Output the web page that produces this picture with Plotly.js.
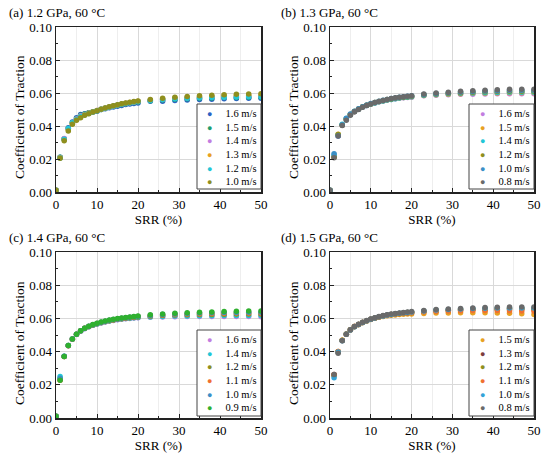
<!DOCTYPE html>
<html>
<head>
<meta charset="utf-8">
<script src="https://cdn.plot.ly/plotly-3.0.1.min.js"></script>
<style>html,body{margin:0;padding:0;background:#fff;}#chart{width:550px;height:457px;}</style>
</head>
<body>
<div id="chart"></div>
<script>
// ---- data ----
const srr = [0,1,2,3,4,5,6,7,8,9,10,11,12,13,14,15,16,17,18,19,20,23,26,29,32,35,38,41,44,47,50];
const xTickVals = [0,10,20,30,40,50];
const yTickVals = [0,0.02,0.04,0.06,0.08,0.10];

const panelTitles = ["(a) 1.2 GPa, 60 °C","(b) 1.3 GPa, 60 °C","(c) 1.4 GPa, 60 °C","(d) 1.5 GPa, 60 °C"];
const xTitle = "SRR (%)";
const yTitle = "Coefficient of Traction";

// panel (a) 1.2 GPa
const namesA = ["1.6 m/s","1.5 m/s","1.4 m/s","1.3 m/s","1.2 m/s","1.0 m/s"];
const colorsA = ["#2b63c4","#1f9e6e","#c27de0","#e8a122","#22c6d6","#8f8f1e"];
const a16 = [0.001,0.021,0.032,0.039,0.0425,0.045,0.047,0.0475,0.048,0.0485,0.049,0.050,0.0505,0.051,0.0515,0.052,0.0525,0.053,0.0533,0.0537,0.054,0.0550,0.0550,0.0555,0.0558,0.0560,0.0562,0.0565,0.0566,0.0568,0.0568];
const a15 = [0.001,0.021,0.0322,0.0385,0.042,0.0445,0.0465,0.0472,0.048,0.0487,0.0493,0.050,0.0507,0.0513,0.052,0.0525,0.053,0.0535,0.054,0.0543,0.0545,0.0553,0.0557,0.0562,0.0565,0.0568,0.0570,0.0572,0.0573,0.0575,0.0574];
const a14 = [0.001,0.0208,0.0325,0.0383,0.0418,0.0442,0.0462,0.0470,0.0478,0.0486,0.0494,0.0501,0.0508,0.0515,0.0521,0.0527,0.0532,0.0537,0.0541,0.0545,0.0548,0.0556,0.0561,0.0566,0.0570,0.0573,0.0576,0.0578,0.0579,0.0580,0.0580];
const a13 = [0.001,0.0207,0.0318,0.0378,0.0415,0.0438,0.0458,0.0468,0.0477,0.0486,0.0494,0.0502,0.0509,0.0516,0.0522,0.0528,0.0533,0.0538,0.0542,0.0546,0.0550,0.0558,0.0564,0.0569,0.0573,0.0577,0.0580,0.0583,0.0585,0.0587,0.0588];
const a12 = [0.001,0.0206,0.0320,0.0385,0.0420,0.0440,0.0458,0.0467,0.0476,0.0485,0.0493,0.0501,0.0508,0.0515,0.0521,0.0527,0.0532,0.0537,0.0541,0.0545,0.0549,0.0555,0.0560,0.0565,0.0568,0.0571,0.0573,0.0575,0.0576,0.0577,0.0577];
const a10 = [0.001,0.0205,0.031,0.037,0.041,0.0435,0.045,0.0465,0.0475,0.0485,0.0493,0.0501,0.0509,0.0516,0.0523,0.0529,0.0535,0.0540,0.0544,0.0548,0.0552,0.0561,0.0568,0.0574,0.0579,0.0583,0.0587,0.0590,0.0592,0.0594,0.0595];

// panel (b) 1.3 GPa
const namesB = ["1.6 m/s","1.5 m/s","1.4 m/s","1.2 m/s","1.0 m/s","0.8 m/s"];
const colorsB = ["#c27de0","#e8a122","#22c6d6","#8f8f1e","#3b8fc7","#6a6a6a"];
const b16 = [0.001,0.0215,0.0340,0.0405,0.0440,0.0468,0.0487,0.0502,0.0515,0.0525,0.0533,0.0540,0.0547,0.0552,0.0557,0.0561,0.0565,0.0568,0.0571,0.0573,0.0575,0.0583,0.0587,0.0590,0.0592,0.0593,0.0594,0.0595,0.0595,0.0596,0.0595];
const b15 = [0.001,0.0212,0.0350,0.0408,0.0442,0.0470,0.0488,0.0503,0.0516,0.0526,0.0534,0.0541,0.0548,0.0553,0.0558,0.0562,0.0566,0.0569,0.0572,0.0575,0.0577,0.0585,0.0590,0.0593,0.0596,0.0598,0.0599,0.0600,0.0601,0.0601,0.0601];
const b14 = [0.001,0.0225,0.0345,0.0410,0.0445,0.0470,0.0488,0.0502,0.0515,0.0525,0.0533,0.0540,0.0547,0.0552,0.0557,0.0561,0.0565,0.0569,0.0572,0.0575,0.0578,0.0586,0.0591,0.0595,0.0598,0.0600,0.0602,0.0603,0.0604,0.0604,0.0604];
const b12 = [0.001,0.0210,0.0348,0.0405,0.0442,0.0470,0.0488,0.0503,0.0516,0.0526,0.0535,0.0542,0.0549,0.0555,0.0560,0.0564,0.0568,0.0572,0.0575,0.0578,0.0580,0.0589,0.0594,0.0598,0.0602,0.0605,0.0607,0.0609,0.0610,0.0611,0.0611];
const b10 = [0.001,0.0232,0.0340,0.0408,0.0447,0.0472,0.0490,0.0504,0.0517,0.0527,0.0536,0.0543,0.0550,0.0556,0.0561,0.0566,0.0570,0.0574,0.0577,0.0580,0.0583,0.0591,0.0597,0.0602,0.0606,0.0609,0.0612,0.0614,0.0616,0.0617,0.0617];
const b08 = [0.001,0.0208,0.0340,0.0403,0.0435,0.0465,0.0486,0.0500,0.0514,0.0525,0.0534,0.0542,0.0549,0.0555,0.0561,0.0566,0.0571,0.0575,0.0578,0.0581,0.0584,0.0594,0.0600,0.0605,0.0610,0.0614,0.0617,0.0620,0.0622,0.0623,0.0623];

// panel (c) 1.4 GPa
const namesC = ["1.6 m/s","1.4 m/s","1.2 m/s","1.1 m/s","1.0 m/s","0.9 m/s"];
const colorsC = ["#c27de0","#22c6d6","#8f8f1e","#f07030","#3b8fc7","#2fb02f"];
const c16 = [0.001,0.0230,0.0370,0.0435,0.0475,0.0503,0.0523,0.0538,0.0549,0.0558,0.0566,0.0573,0.0579,0.0584,0.0588,0.0592,0.0595,0.0598,0.0600,0.0602,0.0604,0.0607,0.0609,0.0610,0.0611,0.0611,0.0611,0.0611,0.0611,0.0611,0.0610];
const c14 = [0.001,0.0250,0.0372,0.0437,0.0476,0.0504,0.0524,0.0539,0.0550,0.0559,0.0567,0.0574,0.0580,0.0585,0.0589,0.0593,0.0596,0.0599,0.0601,0.0604,0.0606,0.0609,0.0612,0.0614,0.0615,0.0616,0.0616,0.0617,0.0617,0.0617,0.0617];
const c12 = [0.001,0.0235,0.0371,0.0436,0.0476,0.0505,0.0525,0.0540,0.0551,0.0560,0.0568,0.0575,0.0581,0.0586,0.0591,0.0595,0.0598,0.0601,0.0604,0.0606,0.0608,0.0613,0.0617,0.0620,0.0622,0.0623,0.0624,0.0625,0.0626,0.0626,0.0626];
const c11 = [0.001,0.0228,0.0370,0.0435,0.0475,0.0505,0.0525,0.0540,0.0551,0.0561,0.0569,0.0576,0.0582,0.0588,0.0592,0.0596,0.0600,0.0603,0.0606,0.0608,0.0611,0.0616,0.0620,0.0624,0.0626,0.0628,0.0630,0.0631,0.0632,0.0632,0.0632];
const c10 = [0.001,0.0240,0.0372,0.0437,0.0476,0.0505,0.0526,0.0541,0.0552,0.0562,0.0570,0.0577,0.0583,0.0589,0.0593,0.0597,0.0601,0.0604,0.0607,0.0610,0.0612,0.0618,0.0623,0.0627,0.0630,0.0632,0.0634,0.0635,0.0636,0.0637,0.0637];
const c09 = [0.001,0.0228,0.0370,0.0437,0.0476,0.0505,0.0526,0.0541,0.0553,0.0563,0.0571,0.0578,0.0584,0.0590,0.0595,0.0599,0.0603,0.0606,0.0609,0.0612,0.0615,0.0622,0.0627,0.0631,0.0634,0.0637,0.0639,0.0641,0.0643,0.0644,0.0644];

// panel (d) 1.5 GPa (no point at SRR 0)
const namesD = ["1.5 m/s","1.3 m/s","1.2 m/s","1.1 m/s","1.0 m/s","0.8 m/s"];
const colorsD = ["#e8a122","#7d3d3d","#8f8f1e","#f07030","#33a3d8","#6a6a6a"];
const d15 = [null,0.0255,0.0400,0.0468,0.0505,0.0530,0.0550,0.0563,0.0575,0.0585,0.0594,0.0601,0.0607,0.0612,0.0616,0.0619,0.0621,0.0623,0.0625,0.0626,0.0627,0.0630,0.0632,0.0633,0.0634,0.0634,0.0634,0.0633,0.0631,0.0628,0.0624];
const d13 = [null,0.0262,0.0398,0.0467,0.0505,0.0531,0.0551,0.0564,0.0576,0.0586,0.0595,0.0603,0.0610,0.0615,0.0620,0.0624,0.0627,0.0630,0.0632,0.0634,0.0636,0.0642,0.0646,0.0649,0.0651,0.0653,0.0654,0.0655,0.0656,0.0656,0.0655];
const d12 = [null,0.0258,0.0399,0.0468,0.0506,0.0531,0.0551,0.0564,0.0576,0.0586,0.0595,0.0603,0.0609,0.0615,0.0619,0.0623,0.0627,0.0630,0.0632,0.0635,0.0637,0.0643,0.0647,0.0651,0.0653,0.0655,0.0657,0.0658,0.0659,0.0659,0.0658];
const d11 = [null,0.0260,0.0400,0.0467,0.0505,0.0530,0.0551,0.0564,0.0576,0.0586,0.0595,0.0603,0.0609,0.0614,0.0619,0.0623,0.0626,0.0629,0.0632,0.0634,0.0636,0.0640,0.0643,0.0645,0.0646,0.0647,0.0647,0.0647,0.0646,0.0645,0.0643];
const d10 = [null,0.0242,0.0397,0.0466,0.0504,0.0530,0.0550,0.0564,0.0576,0.0586,0.0595,0.0603,0.0610,0.0615,0.0620,0.0624,0.0628,0.0631,0.0634,0.0636,0.0638,0.0645,0.0650,0.0654,0.0657,0.0659,0.0661,0.0662,0.0663,0.0663,0.0662];
const d08 = [null,0.0262,0.0390,0.0466,0.0505,0.0531,0.0551,0.0565,0.0577,0.0587,0.0596,0.0604,0.0611,0.0617,0.0622,0.0626,0.0630,0.0633,0.0636,0.0639,0.0641,0.0648,0.0653,0.0657,0.0660,0.0663,0.0665,0.0667,0.0668,0.0668,0.0668];

// ---- build ----
const W = 550, H = 457;
const px = v => v / W;
const py = v => 1 - v / H;
const FONT = '"Liberation Serif", "Times New Roman", serif';

const panels = [
  {names:namesA, colors:colorsA, ys:[a16,a15,a14,a13,a12,a10]},
  {names:namesB, colors:colorsB, ys:[b16,b15,b14,b12,b10,b08]},
  {names:namesC, colors:colorsC, ys:[c16,c14,c12,c11,c10,c09]},
  {names:namesD, colors:colorsD, ys:[d15,d13,d12,d11,d10,d08]}
];

// plot-area geometry in pixels
const geo = [
  {x0:56, x1:261, y0:27,  y1:192, tx:7,   ty:12,  yt:19,  ytc:117, box:[197,261,104,189], lx:206, lc:147},
  {x0:330,x1:534, y0:27,  y1:192, tx:279, ty:12,  yt:293, ytc:117, box:[469,534,104,189], lx:479, lc:147},
  {x0:56, x1:261, y0:252, y1:418, tx:7,   ty:237, yt:19,  ytc:343, box:[197,261,330,416], lx:206, lc:373},
  {x0:330,x1:534, y0:252, y1:418, tx:279, ty:237, yt:293, ytc:343, box:[469,534,330,416], lx:479, lc:373}
];

const traces = [];
const layout = {
  width: W, height: H,
  margin: {l:0, r:0, t:0, b:0},
  paper_bgcolor: "#ffffff",
  plot_bgcolor: "#ffffff",
  showlegend: false,
  font: {family: FONT, size: 13, color: "#000"},
  annotations: [],
  shapes: []
};

const GAP = "\u00a0\u00a0\u00a0\u00a0\u00a0";

panels.forEach((p, i) => {
  const n = i === 0 ? "" : String(i + 1);
  const g = geo[i];
  p.ys.forEach((y, k) => {
    traces.push({
      type: "scatter", mode: "markers",
      x: srr, y: y, name: p.names[k],
      xaxis: "x" + n, yaxis: "y" + n,
      marker: {color: p.colors[k], size: 5.5},
      hoverinfo: "skip"
    });
  });
  const common = {
    showline: true, mirror: true, linecolor: "#222", linewidth: 1.5,
    ticks: "inside", ticklen: 4, tickcolor: "#222", tickwidth: 1,
    showgrid: true, gridcolor: "#d9d9d9", gridwidth: 1,
    zeroline: false, automargin: false, fixedrange: true,
    tickfont: {family: FONT, size: 13, color: "#000"}
  };
  layout["xaxis" + n] = Object.assign({}, common, {
    domain: [px(g.x0), px(g.x1)],
    anchor: "y" + n,
    range: [0, 50], tickmode: "array", tickvals: xTickVals,
    minor: {dtick: 5, tick0: 0, ticks: "inside", ticklen: 2, tickcolor: "#222", showgrid: true, gridcolor: "#eeeeee"},
    title: {text: xTitle, font: {family: FONT, size: 13, color: "#000"}, standoff: 3}
  });
  layout["yaxis" + n] = Object.assign({}, common, {
    domain: [py(g.y1), py(g.y0)],
    anchor: "x" + n,
    range: [0, 0.1], tickmode: "array", tickvals: yTickVals, tickformat: ".2f",
    minor: {dtick: 0.01, tick0: 0, ticks: "inside", ticklen: 2, tickcolor: "#222", showgrid: false}
  });

  // y axis title (slightly below plot centre, as in the reference)
  layout.annotations.push({
    text: yTitle, xref: "paper", yref: "paper", textangle: -90,
    x: px(g.yt), y: py(g.ytc), xanchor: "center", yanchor: "middle",
    showarrow: false, font: {family: FONT, size: 13.5, color: "#000"}
  });

  // panel title
  layout.annotations.push({
    text: panelTitles[i], xref: "paper", yref: "paper",
    x: px(g.tx), y: py(g.ty), xanchor: "left", yanchor: "middle",
    showarrow: false, font: {family: FONT, size: 13, color: "#000"}
  });

  // legend box
  const b = g.box;
  layout.shapes.push({
    type: "rect", xref: "paper", yref: "paper",
    x0: px(b[0]), x1: px(b[1]), y0: py(b[3]), y1: py(b[2]),
    line: {color: "#444", width: 1}, fillcolor: "#ffffff", layer: "above"
  });
  layout.annotations.push({
    text: p.names.map((nm, k) => '<span style="color:' + p.colors[k] + ';font-size:9px">●</span>' + GAP + nm).join("<br>"),
    xref: "paper", yref: "paper", x: px(g.lx), y: py(g.lc),
    xanchor: "left", yanchor: "middle", align: "left",
    borderpad: 0,
    showarrow: false, font: {family: FONT, size: 10.5, color: "#000"}
  });
});

Plotly.newPlot("chart", traces, layout, {staticPlot: true, displayModeBar: false});
</script>
</body>
</html>
